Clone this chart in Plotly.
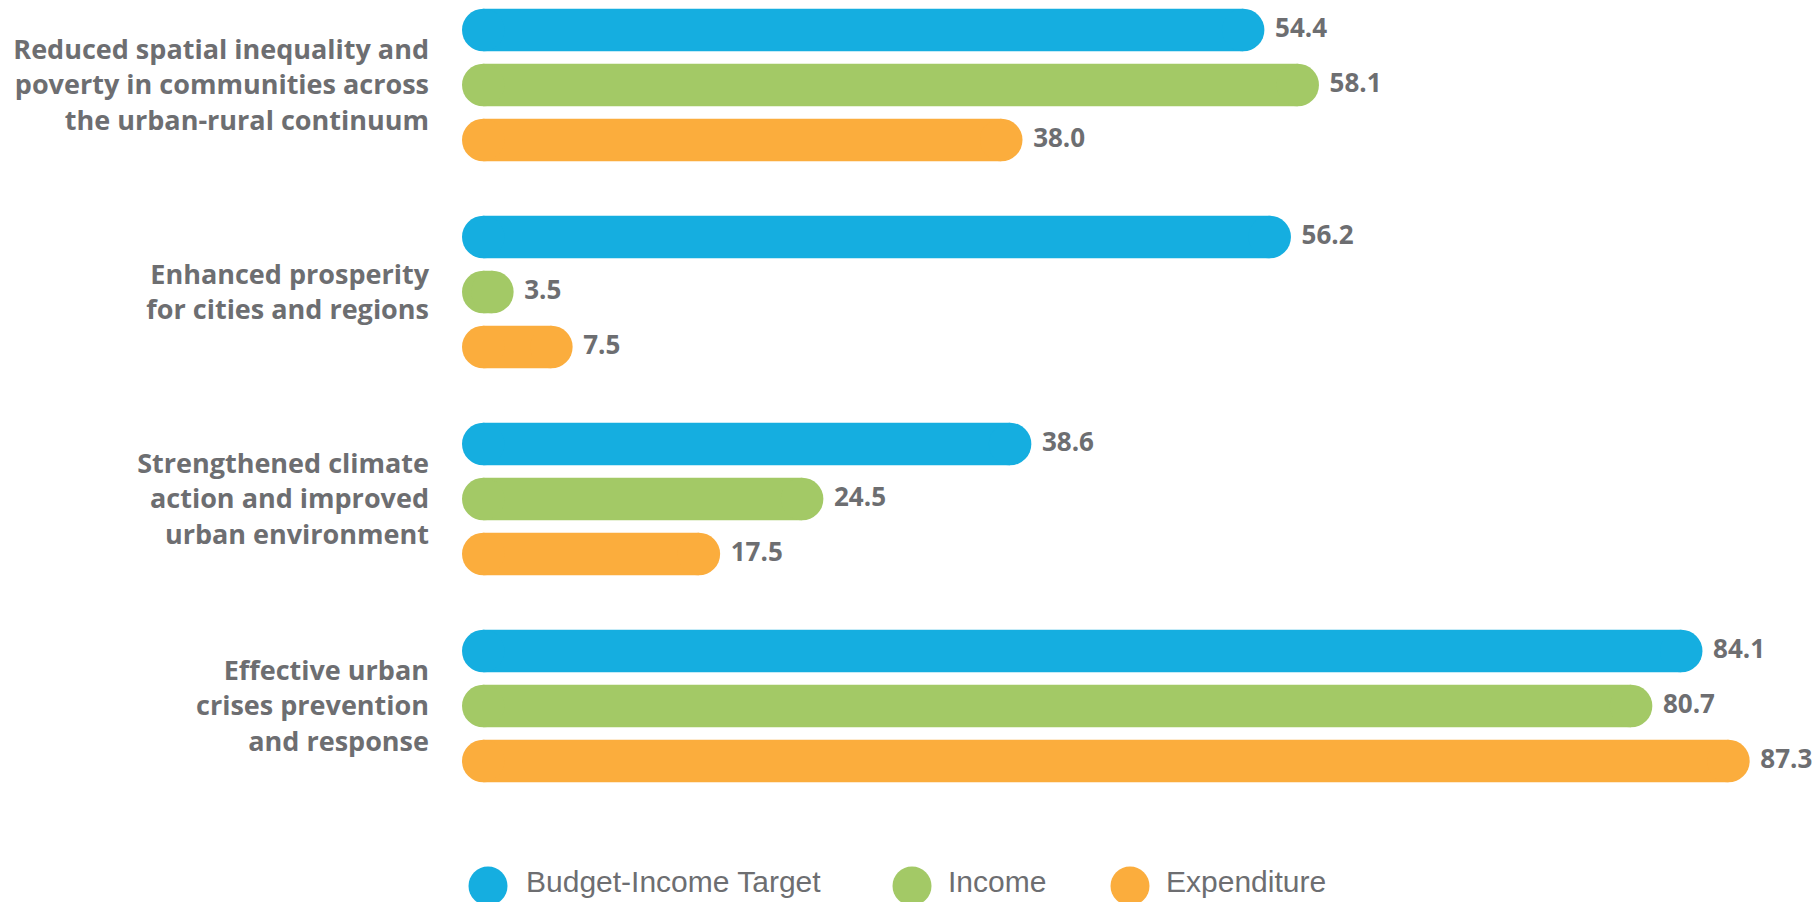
import plotly.graph_objects as go

categories = [
    "Reduced spatial inequality and<br>poverty in communities across<br>the urban-rural continuum",
    "Enhanced prosperity<br>for cities and regions",
    "Strengthened climate<br>action and improved<br>urban environment",
    "Effective urban<br>crises prevention<br>and response",
]
series_names = ["Budget-Income Target", "Income", "Expenditure"]
budget_target = [54.4, 56.2, 38.6, 84.1]
income = [58.1, 3.5, 24.5, 80.7]
expenditure = [38.0, 7.5, 17.5, 87.3]
colors = ["#15AEE0", "#A3C966", "#FBAD3D"]

TEXT = "#6D6E71"
FONT = "Open Sans"

# page offset (browser body margin)
OFF = 8
W, H = 1820 - OFF, 902 - OFF
L, R, T, B = 462 - OFF, 10, 0, 92
pw, ph = W - L - R, H - T - B
PX_PER_UNIT = 14.75
CAT_PX = 207.0

BAR_PX = 42.5
bar_w = BAR_PX / CAT_PX
pitch = 55.0 / CAT_PX
centers = [-pitch, 0.0, pitch]
r_units = (BAR_PX / 2) / PX_PER_UNIT  # radius of the rounded ends in x units

fig = go.Figure()
for name, vals, col, c in zip(series_names, [budget_target, income, expenditure], colors, centers):
    ys = [i + c for i in range(len(categories))]
    # straight middle part of each pill-shaped bar
    fig.add_trace(go.Bar(
        y=ys, x=[v - 2 * r_units for v in vals], base=r_units,
        orientation="h", width=bar_w, name=name,
        marker=dict(color=col, line=dict(width=0)),
        showlegend=False, hoverinfo="skip",
    ))
    # rounded left ends
    fig.add_trace(go.Scatter(
        y=ys, x=[r_units] * len(vals), mode="markers",
        marker=dict(symbol="circle", size=BAR_PX, color=col, line=dict(width=0)),
        showlegend=False, hoverinfo="skip", cliponaxis=False,
    ))
    # rounded right ends with value labels
    fig.add_trace(go.Scatter(
        y=ys, x=[v - r_units for v in vals], mode="markers+text",
        marker=dict(symbol="circle", size=BAR_PX, color=col, line=dict(width=0)),
        text=["\u2009" + f"{v:.1f}" for v in vals], textposition="middle right",
        textfont=dict(family=FONT, size=26, color=TEXT, weight="bold"),
        showlegend=False, hoverinfo="skip", cliponaxis=False,
    ))

def px_x(x):
    return (x - OFF - L) / pw

def px_y(y):
    return (H - B - (y - OFF)) / ph

# custom legend with large circles (page pixel positions)
legend_cx = [488, 912, 1130]
legend_tx = [524, 946, 1164]
legend_cy = 886
legend_ty = 881
for name, col, cx, tx in zip(series_names, colors, legend_cx, legend_tx):
    fig.add_shape(type="circle", xref="paper", yref="paper",
                  xsizemode="pixel", ysizemode="pixel",
                  xanchor=px_x(cx), yanchor=px_y(legend_cy),
                  x0=-19.5, x1=19.5, y0=-19.5, y1=19.5,
                  fillcolor=col, line=dict(width=0))
    fig.add_annotation(x=px_x(tx), y=px_y(legend_ty), xref="paper", yref="paper",
                       text=name, showarrow=False, xanchor="left", yanchor="middle",
                       font=dict(family="Liberation Sans", size=30, color=TEXT))

top = -(85 - OFF - T) / CAT_PX
fig.update_layout(
    width=W, height=H,
    margin=dict(l=L, r=R, t=T, b=B, autoexpand=False),
    paper_bgcolor="white", plot_bgcolor="white",
    barmode="overlay",
    showlegend=False,
    xaxis=dict(visible=False, range=[0, pw / PX_PER_UNIT]),
    yaxis=dict(range=[top + ph / CAT_PX, top], showgrid=False, zeroline=False, showline=False,
               tickmode="array", tickvals=list(range(len(categories))), ticktext=categories,
               ticks="", ticklabelstandoff=32, automargin=False,
               tickfont=dict(family=FONT, size=27, color=TEXT, weight="bold")),
)

fig.write_html("out.html")
